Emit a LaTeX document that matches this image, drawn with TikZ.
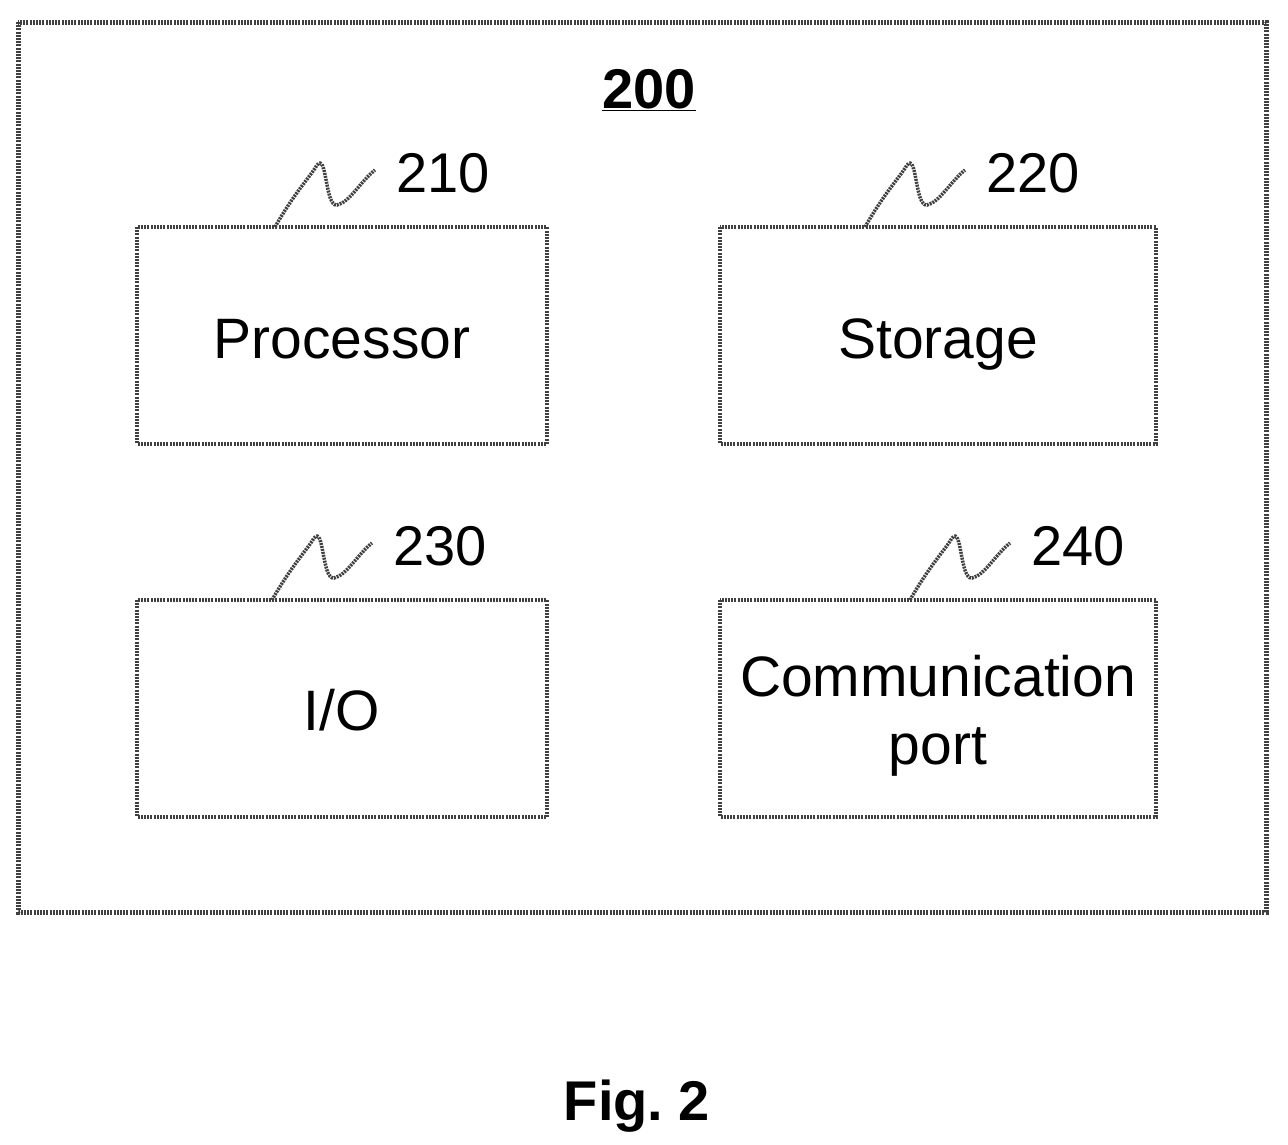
\documentclass[tikz,border=0pt]{standalone}
\usepackage{fontspec}
\setmainfont{Liberation Sans}
\frenchspacing
\begin{document}
\begin{tikzpicture}[x=1pt,y=-1pt,
  frame/.style={draw=black!75,line width=5pt,dash pattern=on 2pt off 1.2pt},
  box/.style={frame,line width=4pt},
  lbl/.style={font=\fontsize{57}{70}\selectfont,anchor=base},
  num/.style={font=\fontsize{56}{60}\selectfont,anchor=base west},
  sq/.style={draw=black!75,line width=3.5pt,dash pattern=on 2pt off 1pt}]
\useasboundingbox (0,0) rectangle (1288,1144);
\draw[frame] (18,22) rectangle (1266,912);
\node[font=\bfseries\fontsize{56}{60}\selectfont,anchor=base] (t) at (649,108) {\underline{200}};
\draw[box] (137,227) rectangle (547,444);
\node[lbl] (p) at (342,358) {Processor};
\draw[box] (720,227) rectangle (1156,444);
\node[lbl] (s) at (938,358) {Storage};
\draw[box] (137,600) rectangle (547,817);
\node[lbl] (io) at (342,730) {I/O};
\draw[box] (720,600) rectangle (1156,817);
\node[lbl] (c) at (938,696) {Communication};
\node[lbl] (c2) at (938,764) {port};
\foreach \x/\y/\n in {275/227/210, 865/227/220, 272/600/230, 910/600/240}{
  \draw[sq] (\x,\y) .. controls (\x+20,\y-35) and (\x+35,\y-50) .. (\x+42,\y-62)
     .. controls (\x+52,\y-75) and (\x+50,\y-20) .. (\x+62,\y-22)
     .. controls (\x+75,\y-25) and (\x+85,\y-45) .. (\x+100,\y-57);
  \node[num] at (\x+118,\y-35) {\n};
}
\node[font=\bfseries\fontsize{56}{60}\selectfont,anchor=base] (f) at (637,1120) {Fig. 2};
\end{tikzpicture}
\end{document}
